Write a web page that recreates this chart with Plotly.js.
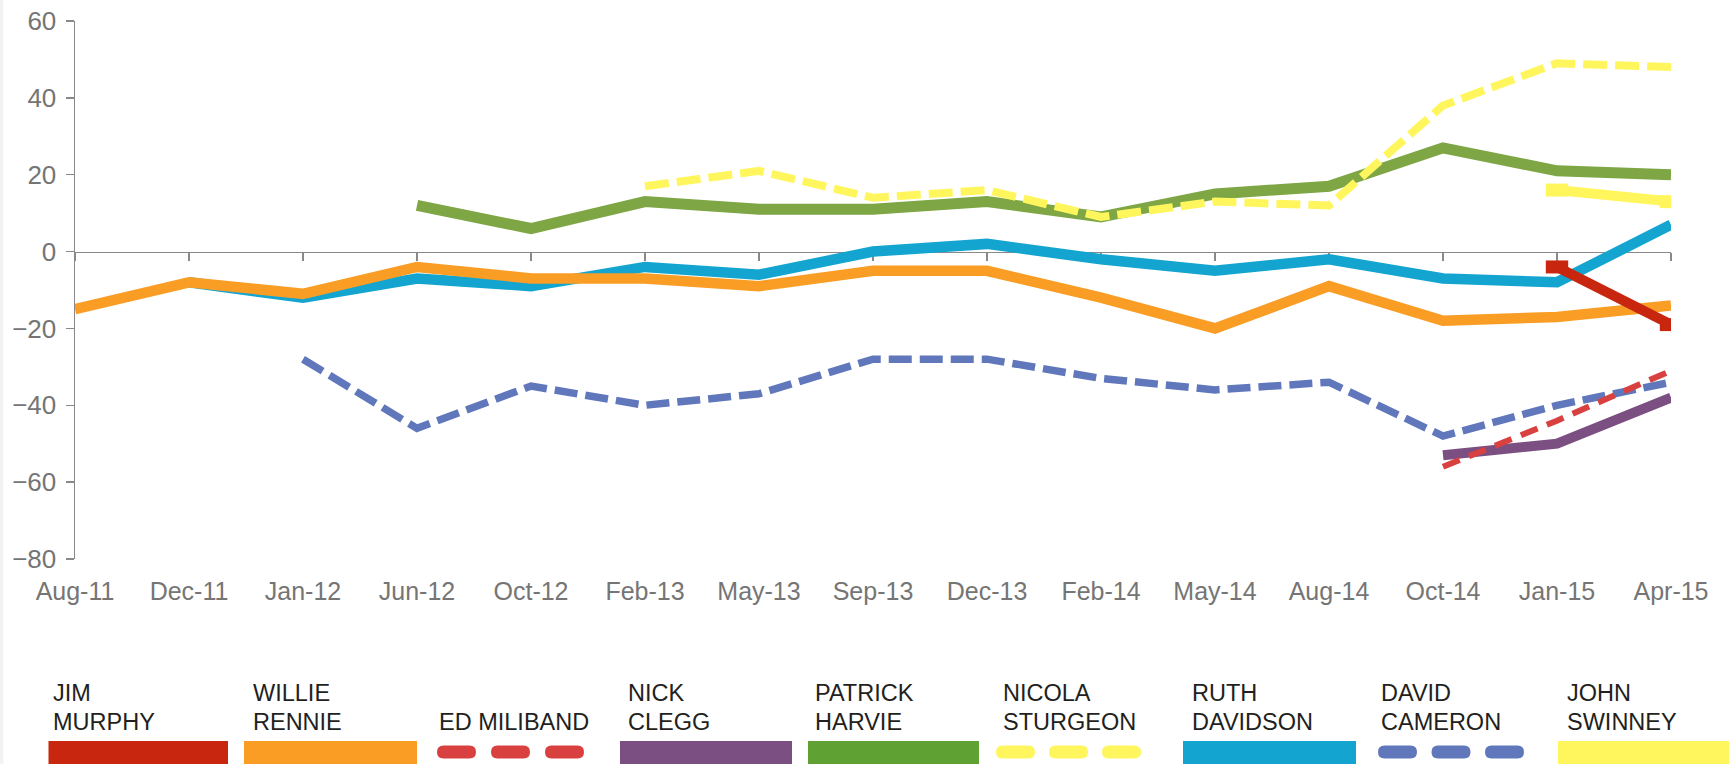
<!DOCTYPE html>
<html>
<head>
<meta charset="utf-8">
<script src="https://cdn.plot.ly/plotly-3.0.1.min.js"></script>
<style>
  html, body { margin: 0; padding: 0; background: #ffffff; }
  #chart { width: 1729px; height: 764px; }
</style>
</head>
<body>
<div id="chart"></div>
<script>
// ---------- DATA ----------
const months = ['Aug-11','Dec-11','Jan-12','Jun-12','Oct-12','Feb-13','May-13','Sep-13','Dec-13','Feb-14','May-14','Aug-14','Oct-14','Jan-15','Apr-15'];

const jimMurphy      = [null,null,null,null,null,null,null,null,null,null,null,null,null,-4,-19];
const willieRennie   = [-15,-8,-11,-4,-7,-7,-9,-5,-5,-12,-20,-9,-18,-17,-14];
const edMiliband     = [null,null,null,null,null,null,null,null,null,null,null,null,-56,-44,-31];
const nickClegg      = [null,null,null,null,null,null,null,null,null,null,null,null,-53,-50,-38];
const patrickHarvie  = [null,null,null,12,6,13,11,11,13,9,15,17,27,21,20];
const nicolaSturgeon = [null,null,null,null,null,17,21,14,16,9,13,12,38,49,48];
const ruthDavidson   = [null,-8,-12,-7,-9,-4,-6,0,2,-2,-5,-2,-7,-8,7];
const davidCameron   = [null,null,-28,-46,-35,-40,-37,-28,-28,-33,-36,-34,-48,-40,-34];
const johnSwinney    = [null,null,null,null,null,null,null,null,null,null,null,null,null,16,13];

const legendNames = [['JIM','MURPHY'],['WILLIE','RENNIE'],['','ED MILIBAND'],['NICK','CLEGG'],['PATRICK','HARVIE'],['NICOLA','STURGEON'],['RUTH','DAVIDSON'],['DAVID','CAMERON'],['JOHN','SWINNEY']];

// ---------- STYLE / LAYOUT ----------
const W = 1729, H = 764;
const M = {l: 75, r: 58, t: 21, b: 205};
const PW = W - M.l - M.r, PH = H - M.t - M.b;
const toX = px => (px - M.l) / PW;
const toY = py => (H - M.b - py) / PH;
const font = 'Liberation Sans, Arial, sans-serif';

function line(name, y, color, width, dash) {
  return {type: 'scatter', mode: 'lines', name: name, x: months, y: y,
          connectgaps: false, hoverinfo: 'skip',
          line: {color: color, width: width, dash: dash || 'solid'}};
}
function lineMarked(name, y, color, width) {
  const t = line(name, y, color, width);
  t.mode = 'lines+markers';
  t.marker = {symbol: 'line-ew', size: 16, color: color, line: {color: color, width: 13}};
  return t;
}

const traces = [
  line('RUTH DAVIDSON', ruthDavidson, '#13A5D0', 10.5),
  line('WILLIE RENNIE', willieRennie, '#F99D25', 10.5),
  line('PATRICK HARVIE', patrickHarvie, '#7EA645', 11),
  line('NICOLA STURGEON', nicolaSturgeon, '#FFF65E', 8, '24px,8px'),
  lineMarked('JOHN SWINNEY', johnSwinney, '#FFF65E', 10),
  line('DAVID CAMERON', davidCameron, '#6077BC', 7.5, '23px,8px'),
  line('NICK CLEGG', nickClegg, '#7C4F82', 10),
  line('ED MILIBAND', edMiliband, '#D94040', 6, '18px,10px'),
  lineMarked('JIM MURPHY', jimMurphy, '#C8260F', 10),
  {type: 'scatter', mode: 'lines', x: months, y: months.map(() => null), xaxis: 'x2', yaxis: 'y', hoverinfo: 'skip', showlegend: false}
];

// legend swatches (page pixel geometry), drawn as shapes
const swatches = [
  {x0: 48.5, x1: 228,  color: '#C8260F', dashed: false},
  {x0: 244,  x1: 417,  color: '#F99D25', dashed: false},
  {x0: 437,  x1: 584,  color: '#D94040', dashed: true},
  {x0: 620,  x1: 792,  color: '#7C4F82', dashed: false},
  {x0: 808,  x1: 979,  color: '#5FA233', dashed: false},
  {x0: 996,  x1: 1141, color: '#FFF65E', dashed: true},
  {x0: 1183, x1: 1356, color: '#13A5D0', dashed: false},
  {x0: 1378, x1: 1524, color: '#6077BC', dashed: true},
  {x0: 1558, x1: 1729, color: '#FFF65E', dashed: false}
];
const textX = [52, 251.5, 438, 626.5, 814, 1001.5, 1191, 1379.5, 1566];

// pixel path helpers (relative to plot origin at paper 0,0, y up)
const rx = px => px - M.l;
const ry = py => (H - M.b) - py;
function rectPath(x0, x1, y0, y1) {
  return `M${rx(x0)},${ry(y0)}L${rx(x1)},${ry(y0)}L${rx(x1)},${ry(y1)}L${rx(x0)},${ry(y1)}Z`;
}
function roundRectPath(x0, x1, yc, h) {
  const r = h / 2, yt = yc - r, yb = yc + r;
  return `M${rx(x0 + r)},${ry(yt)}L${rx(x1 - r)},${ry(yt)}` +
         `Q${rx(x1)},${ry(yt)} ${rx(x1)},${ry(yc)}` +
         `Q${rx(x1)},${ry(yb)} ${rx(x1 - r)},${ry(yb)}` +
         `L${rx(x0 + r)},${ry(yb)}` +
         `Q${rx(x0)},${ry(yb)} ${rx(x0)},${ry(yc)}` +
         `Q${rx(x0)},${ry(yt)} ${rx(x0 + r)},${ry(yt)}Z`;
}
function pixShape(path, color, layer) {
  return {type: 'path', xref: 'paper', yref: 'paper', xsizemode: 'pixel', ysizemode: 'pixel',
          xanchor: 0, yanchor: 0, path: path, fillcolor: color, line: {width: 0}, layer: layer || 'above'};
}

const shapes = [pixShape(rectPath(0, 3.3, 0, 764), '#F2F2F2', 'below')];
swatches.forEach(s => {
  if (!s.dashed) {
    shapes.push(pixShape(rectPath(s.x0, s.x1, 741, 764), s.color));
  } else {
    const dw = 39, gap = (s.x1 - s.x0 - 3 * dw) / 2;
    for (let k = 0; k < 3; k++) {
      const a = s.x0 + k * (dw + gap);
      shapes.push(pixShape(roundRectPath(a, a + dw, 752, 13), s.color));
    }
  }
});

const annotations = [];
legendNames.forEach((nm, i) => {
  [[nm[0], 692.5], [nm[1], 721.5]].forEach(([txt, py]) => {
    if (!txt) return;
    annotations.push({text: txt, xref: 'paper', yref: 'paper', x: toX(textX[i]), y: toY(py),
      xanchor: 'left', yanchor: 'middle', showarrow: false, borderpad: 0,
      font: {family: font, size: 23.5, color: '#231F20'}});
  });
});

const axisGrey = '#898989';
const layout = {
  width: W, height: H,
  margin: {l: M.l, r: M.r, t: M.t, b: M.b, pad: 0},
  paper_bgcolor: '#ffffff', plot_bgcolor: '#ffffff',
  showlegend: false,
  font: {family: font},
  xaxis: {
    type: 'category', range: [0, 14], anchor: 'free', position: 80 / 140,
    showline: true, linecolor: axisGrey, linewidth: 1.5,
    ticks: 'outside', ticklen: 8, tickwidth: 1.5, tickcolor: axisGrey,
    showticklabels: false, showgrid: false, zeroline: false, layer: 'below traces',
    fixedrange: true
  },
  xaxis2: {
    type: 'category', range: [0, 14], overlaying: 'x', anchor: 'y', side: 'bottom',
    showline: false, ticks: '', showgrid: false, zeroline: false,
    ticklabelstandoff: 15,
    tickfont: {family: font, size: 25, color: '#757575'},
    fixedrange: true
  },
  yaxis: {
    range: [-80, 60], dtick: 20, tick0: 0,
    showline: true, linecolor: axisGrey, linewidth: 1.5,
    ticks: 'outside', ticklen: 8, tickwidth: 1.5, tickcolor: axisGrey,
    showgrid: false, zeroline: false, layer: 'below traces',
    ticklabelstandoff: 4,
    tickfont: {family: font, size: 26, color: '#757575'},
    fixedrange: true
  },
  shapes: shapes,
  annotations: annotations
};

Plotly.newPlot('chart', traces, layout, {displayModeBar: false, staticPlot: true});
</script>
</body>
</html>
